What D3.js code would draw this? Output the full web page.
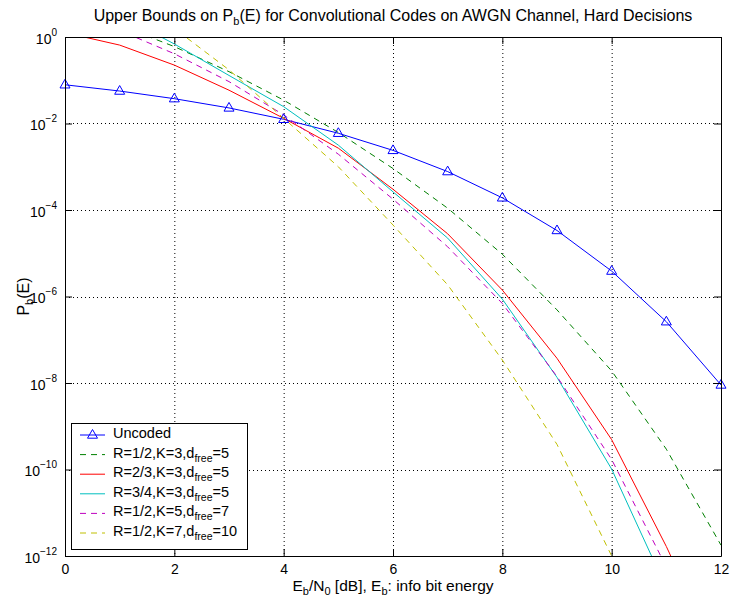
<!DOCTYPE html>
<html>
<head>
<meta charset="utf-8">
<script src="https://cdn.jsdelivr.net/npm/d3@7"></script>
<style>
  body { margin: 0; background: #fff; }
  svg { font-family: "Liberation Sans", Arial, sans-serif; }
</style>
</head>
<body>
<svg id="chart" width="734" height="598"></svg>
<script>
// Eb/N0 points in dB
const ebno = [0, 1, 2, 3, 4, 5, 6, 7, 8, 9, 10, 11, 12];

// (values above 1 and below 1e-12 are clipped away)
const uncoded = [7.86e-2, 5.63e-2, 3.75e-2, 2.29e-2, 1.25e-2, 5.95e-3, 2.39e-3, 7.73e-4, 1.91e-4, 3.36e-5, 3.87e-6, 2.61e-7, 9.0e-9];
const r12k3 = [6.3, 1.86, 0.60, 0.158, 0.0347, 6.2e-3, 9.1e-4, 1.1e-4, 9.5e-6, 4.9e-7, 1.9e-8, 2.95e-10, 1.78e-12];
const r23k3 = [1.26, 0.65, 0.224, 0.0589, 0.0132, 2.69e-3, 3.02e-4, 2.82e-5, 1.41e-6, 3.72e-8, 4.9e-10, 1.66e-12, 3.2e-15];
const r34k3 = [12.6, 3.2, 0.69, 0.129, 0.0245, 3.16e-3, 2.63e-4, 2.24e-5, 8.7e-7, 1.35e-8, 1.02e-10, 1.8e-13];
const r12k5 = [4.5, 1.41, 0.41, 0.093, 0.0158, 1.95e-3, 1.78e-4, 1.41e-5, 6.9e-7, 1.41e-8, 1.7e-10, 5.6e-13];
const r12k7 = [50, 10, 1.58, 0.174, 0.0132, 1.0e-3, 4.5e-5, 1.86e-6, 3.4e-8, 3.8e-10, 1.0e-12];

const xTicks = [0, 2, 4, 6, 8, 10, 12];
const yTickExps = [0, -2, -4, -6, -8, -10, -12];

// legend labels: [text, subscript, text]
const series = [
  { label: ['Uncoded', '', ''], values: uncoded, color: '#0000ff', dash: null, marker: true },
  { label: ['R=1/2,K=3,d', 'free', '=5'], values: r12k3, color: '#008000', dash: '6,5' },
  { label: ['R=2/3,K=3,d', 'free', '=5'], values: r23k3, color: '#ff0000', dash: null },
  { label: ['R=3/4,K=3,d', 'free', '=5'], values: r34k3, color: '#00bfbf', dash: null },
  { label: ['R=1/2,K=5,d', 'free', '=7'], values: r12k5, color: '#bf00bf', dash: '6,5' },
  { label: ['R=1/2,K=7,d', 'free', '=10'], values: r12k7, color: '#bfbf00', dash: '6,5' }
];

let svg = d3.select('#chart');
let mLeft = 65, mRight = 721, mTop = 37, mBottom = 556;
let fs = 14;      // tick labels
let fsLab = 15.5; // axis labels
let fsLeg = 14.5; // legend

let x = d3.scaleLinear().domain([0, 12]).range([mLeft, mRight]);
let y = d3.scaleLog().domain([1e-12, 1]).range([mBottom, mTop]);
let yTicks = yTickExps.map(e => Math.pow(10, e));

svg.append('defs').append('clipPath').attr('id', 'plotclip')
  .append('rect')
  .attr('x', mLeft).attr('y', mTop)
  .attr('width', mRight - mLeft).attr('height', mBottom - mTop);

// grid
let grid = svg.append('g')
  .attr('stroke', '#000')
  .attr('stroke-width', 1)
  .attr('stroke-dasharray', '1,3');
grid.selectAll('.gx')
  .data(xTicks.slice(1, -1))
  .enter().append('line')
  .attr('x1', d => x(d) + 0.5).attr('x2', d => x(d) + 0.5)
  .attr('y1', mTop).attr('y2', mBottom);
grid.selectAll('.gy')
  .data(yTicks.slice(1, -1))
  .enter().append('line')
  .attr('y1', d => Math.round(y(d)) + 0.5).attr('y2', d => Math.round(y(d)) + 0.5)
  .attr('x1', mLeft).attr('x2', mRight);

// curves
let plot = svg.append('g').attr('clip-path', 'url(#plotclip)');
let line = d3.line()
  .x((d, i) => x(ebno[i]))
  .y(d => y(d));

series.forEach(s => {
  plot.append('path')
    .datum(s.values)
    .attr('fill', 'none')
    .attr('stroke', s.color)
    .attr('stroke-width', 1)
    .attr('stroke-dasharray', s.dash)
    .attr('d', line);
});

let tri = 'M0,-5.5L5,3.2L-5,3.2Z';
svg.append('g')
  .selectAll('path')
  .data(uncoded)
  .enter().append('path')
  .attr('transform', (d, i) => `translate(${x(ebno[i])},${y(d)})`)
  .attr('d', tri)
  .attr('fill', 'none')
  .attr('stroke', '#0000ff')
  .attr('stroke-width', 1);

// axes, ticks pointing inwards
let xAxis = svg.append('g')
  .attr('transform', `translate(0,${mBottom})`)
  .call(d3.axisBottom(x).tickValues(xTicks).tickSizeInner(-7).tickSizeOuter(0).tickPadding(8));
svg.append('g')
  .attr('transform', `translate(0,${mTop})`)
  .call(d3.axisTop(x).tickValues(xTicks).tickSizeInner(-7).tickSizeOuter(0).tickFormat(''));
let yAxis = svg.append('g')
  .attr('transform', `translate(${mLeft},0)`)
  .call(d3.axisLeft(y).tickValues(yTicks).tickSizeInner(-7).tickSizeOuter(0).tickPadding(8).tickFormat(() => ''));
svg.append('g')
  .attr('transform', `translate(${mRight},0)`)
  .call(d3.axisRight(y).tickValues(yTicks).tickSizeInner(-7).tickSizeOuter(0).tickFormat(''));

svg.selectAll('.domain').attr('stroke', '#000');
svg.selectAll('.tick line').attr('stroke', '#000');

xAxis.selectAll('text')
  .attr('font-size', fs)
  .attr('font-family', null)
  .attr('fill', '#000');

yAxis.selectAll('.tick text')
  .attr('font-size', fs)
  .attr('font-family', null)
  .attr('fill', '#000')
  .attr('dy', '0.45em')
  .each(function(d, i) {
    let t = d3.select(this);
    t.append('tspan').text('10');
    t.append('tspan')
      .attr('font-size', 10)
      .attr('dy', -8)
      .text(String(yTickExps[i]).replace('-', '\u2212'));
  });

// title
let title = svg.append('text')
  .attr('x', (mLeft + mRight) / 2)
  .attr('y', 21)
  .attr('text-anchor', 'middle')
  .attr('font-size', 16);
title.append('tspan').text('Upper Bounds on P');
title.append('tspan').attr('font-size', 11).attr('dy', 4).text('b');
title.append('tspan').attr('dy', -4).text('(E) for Convolutional Codes on AWGN Channel, Hard Decisions');

// x label
let xlab = svg.append('text')
  .attr('x', (mLeft + mRight) / 2)
  .attr('y', 591)
  .attr('text-anchor', 'middle')
  .attr('font-size', fsLab);
xlab.append('tspan').text('E');
xlab.append('tspan').attr('font-size', 11).attr('dy', 4).text('b');
xlab.append('tspan').attr('dy', -4).text('/N');
xlab.append('tspan').attr('font-size', 11).attr('dy', 4).text('0');
xlab.append('tspan').attr('dy', -4).text(' [dB], E');
xlab.append('tspan').attr('font-size', 11).attr('dy', 4).text('b');
xlab.append('tspan').attr('dy', -4).text(': info bit energy');

// y label
let ylab = svg.append('text')
  .attr('transform', `translate(29,${(mTop + mBottom) / 2}) rotate(-90)`)
  .attr('text-anchor', 'middle')
  .attr('font-size', 16);
ylab.append('tspan').text('P');
ylab.append('tspan').attr('font-size', 11).attr('dy', 4).text('b');
ylab.append('tspan').attr('dy', -4).text('(E)');

// legend
let lx = 71, ly = 423, lw = 176, lh = 126, rowH = 19.6;
let legend = svg.append('g');
legend.append('rect')
  .attr('x', lx + 0.5).attr('y', ly + 0.5)
  .attr('width', lw).attr('height', lh)
  .attr('fill', '#fff')
  .attr('stroke', '#000');

let item = legend.selectAll('.item')
  .data(series)
  .enter().append('g')
  .attr('transform', (d, i) => `translate(${lx},${ly + 12 + i * rowH})`);

item.append('line')
  .attr('x1', 9).attr('x2', 34)
  .attr('stroke', d => d.color)
  .attr('stroke-dasharray', d => d.dash);

item.filter(d => d.marker).append('path')
  .attr('transform', 'translate(21.5,0)')
  .attr('d', tri)
  .attr('fill', 'none')
  .attr('stroke', d => d.color);

let itemText = item.append('text')
  .attr('x', 42)
  .attr('y', 0)
  .attr('dy', '0.2em')
  .attr('font-size', fsLeg);
itemText.append('tspan').text(d => d.label[0]);
itemText.filter(d => d.label[1]).append('tspan').attr('font-size', 10.5).attr('dy', 4).text(d => d.label[1]);
itemText.filter(d => d.label[2]).append('tspan').attr('dy', -4).text(d => d.label[2]);
</script>
</body>
</html>
